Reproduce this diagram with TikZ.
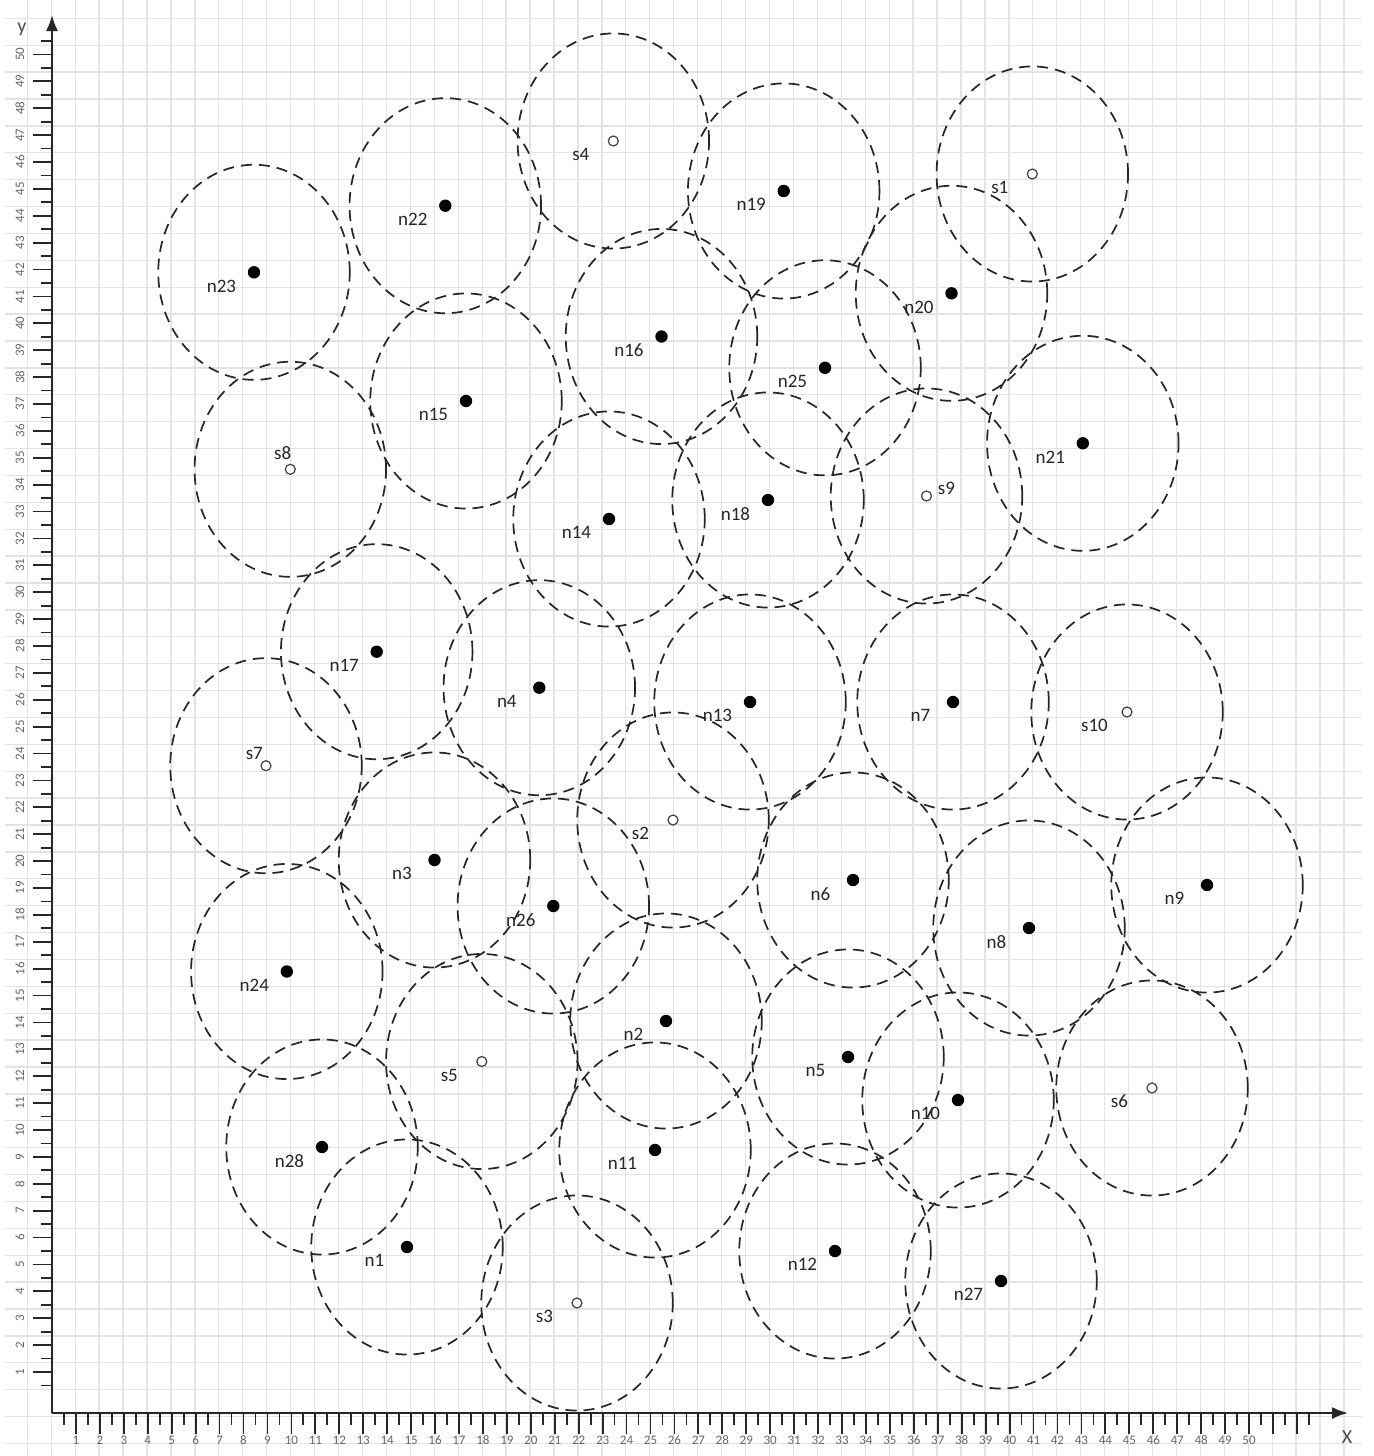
\documentclass[tikz,border=0pt]{standalone}
\usepackage{fontspec}
\setmainfont{Carlito}
\usetikzlibrary{arrows.meta}
\pgfdeclarelayer{gridlayer}
\pgfdeclarelayer{ringlayer}
\pgfsetlayers{gridlayer,ringlayer,main}
\begin{document}
\begin{tikzpicture}[x=0.5pt,y=-0.5pt,
  gridl/.style={draw=gray!22,line width=0.65pt},
  axisl/.style={draw=black!85,line width=1pt},
  tickl/.style={draw=black!85,line width=0.9pt},
  ticklab/.style={font=\fontsize{6.5}{7}\selectfont,text=black!60,inner sep=0pt},
  axlab/.style={font=\fontsize{10}{12}\selectfont,text=black!70,inner sep=0pt},
  rng/.style={draw=black!85,line width=0.85pt,dash pattern=on 5.5pt off 3.5pt},
  ndot/.style={circle,fill=black,inner sep=0pt,minimum size=6.2pt},
  sdot/.style={circle,draw=black!75,fill=white,line width=0.6pt,inner sep=0pt,minimum size=5pt},
  lbl/.style={font=\fontsize{9.5}{11}\selectfont,text=black!85,inner sep=0pt}]
\useasboundingbox (0,0) rectangle (1373,1456);
% grid
\begin{pgfonlayer}{gridlayer}
\fill[white] (0,0) rectangle (1373,1456);
\foreach \i in {0,...,55} \draw[gridl] ({27.3+23.94*\i},0) -- ({27.3+23.94*\i},1456);
\foreach \j in {0,...,53} \draw[gridl] (5,{18.3+26.89*\j}) -- (1362,{18.3+26.89*\j});
\end{pgfonlayer}
% ticks
\foreach \k in {1,...,52} \draw[tickl] ({52+23.94*\k},1413) -- ++(0,21);
\foreach \k in {0,...,52} \draw[tickl] ({52+23.94*(\k+0.5)},1413) -- ++(0,12);
\foreach \k in {1,...,50} \node[ticklab] (xt\k) at ({52+23.94*\k},1440) {\k};
\foreach \k in {1,...,50} \draw[tickl] (52,{1398.9-26.89*\k}) -- ++(-19,0);
\foreach \k in {0,...,50} \draw[tickl] (52,{1398.9-26.89*(\k+0.5)}) -- ++(-11,0);
\foreach \k in {1,...,50} \node[ticklab,rotate=90] (yt\k) at (20,{1398.9-26.89*\k}) {\k};
% axes
\coordinate (O) at (52,1413);
\coordinate (xend) at (1348,1413);
\coordinate (yend) at (52,15);
\draw[axisl,-{Latex[length=8pt,width=6pt]}] (O) -- (xend);
\draw[axisl,-{Latex[length=8pt,width=6pt]}] (O) -- (yend);
\node[axlab] (ylab) at (22,29) {y};
\node[axlab] (xlab) at (1347,1437) {X};
% lists
\def\nlist{n1/407/1247,n2/666/1021,n3/434.5/860,n4/539.3/687.7,n5/848/1057,n6/853/880,n7/953/702,n8/1029/928,n9/1207/885,n10/958/1100,n11/655/1150,n12/835/1251,n13/750/702,n14/609/519,n15/466/401,n16/661.5/336.5,n17/376.7/651.7,n18/768/500,n19/783.7/191,n20/951.5/293.3,n21/1082.8/443.3,n22/445.3/205.7,n23/254/272.3,n24/286.8/971.5,n25/825/367.8,n26/553.3/906,n27/1001/1281,n28/322/1147}
\def\slist{s1/1032.3/174/-32.5/13.5,s2/673/820/-32.5/13.5,s3/577/1303/-32.5/13.5,s4/613.3/141/-32.5/13.5,s5/481.8/1061.5/-32.5/13.5,s6/1152/1088/-32.5/13.5,s7/266/765.7/-11.7/-12.7,s8/290.3/469.3/-7.6/-16.6,s9/926.5/496/20/-8,s10/1127/712/-32.5/13.5}
% rings
\begin{pgfonlayer}{ringlayer}
\foreach \nm/\px/\py in \nlist {\coordinate (\nm-c) at (\px,\py); \draw[rng] (\nm-c) ellipse [x radius=47.88pt, y radius=53.78pt];}
\foreach \nm/\px/\py/\dx/\dy in \slist {\coordinate (\nm-c) at (\px,\py); \draw[rng] (\nm-c) ellipse [x radius=47.88pt, y radius=53.78pt];}
\end{pgfonlayer}
% nodes and labels
\foreach \nm/\px/\py in \nlist {\node[ndot] (\nm) at (\px,\py) {}; \node[lbl] (\nm-lab) at (\px-32.5,\py+13.8) {\nm};}
\foreach \nm/\px/\py/\dx/\dy in \slist {\node[sdot] (\nm) at (\px,\py) {}; \node[lbl] (\nm-lab) at (\px+\dx,\py+\dy) {\nm};}
\end{tikzpicture}
\end{document}
